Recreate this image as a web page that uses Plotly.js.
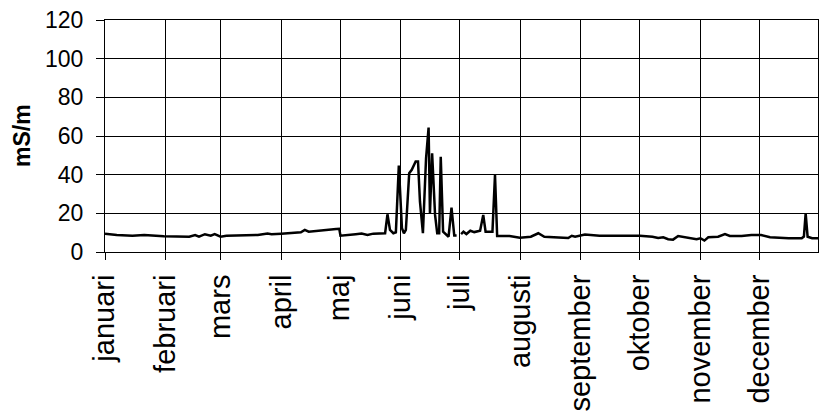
<!DOCTYPE html>
<html>
<head>
<meta charset="utf-8">
<script src="https://cdn.plot.ly/plotly-3.0.1.min.js"></script>
<style>html,body{margin:0;padding:0;background:#fff;}#chart{width:819px;height:415px;}</style>
</head>
<body>
<div id="chart"></div>
<script>
// Day of year (0 = 1 Jan) and conductivity readings (mS/m)
const days = [0, 6, 14, 20, 30, 43, 46, 48, 51, 54, 56, 59, 62, 72, 78, 83, 85, 90, 100, 102, 104, 118, 119.6, 120.2, 123, 128, 131, 134, 137, 142,
  143, 144.2, 145.5, 147.2, 148.5, 150, 151.6, 152.6, 153.6, 155.3, 156.6, 158.6, 159.8, 160.8, 162.3, 163.9, 165.2, 165.9, 167, 168.5,
  169.6, 170.6, 171.4, 172.6, 173.6, 175.4, 176.9, 178.3, 179.5, 180.3, 181.8, 183, 184.5, 186.5, 188.5, 191.5, 193.1, 194.3, 197.8, 199.1,
  200.2, 206.5, 211.8, 217.4, 221.2, 224.3, 234, 236.5, 238.3, 240, 245, 247.5, 252.5, 273, 279.5, 282.4, 285, 287.5, 290, 292.6,
  297, 302, 304, 306, 308, 313, 316.5, 319, 325, 330, 335, 339.5, 349, 355.7, 356.8, 357.7, 358.7, 361, 364];
const values = [9.5, 8.8, 8.4, 8.8, 8.1, 7.9, 8.8, 7.9, 9.2, 8.4, 9.2, 7.9, 8.4, 8.6, 8.8, 9.6, 9.2, 9.5, 10.2, 11.4, 10.5, 11.9, 12.0, 8.4, 8.8, 9.2, 9.5, 8.8, 9.5, 9.6,
  9.7, 19.5, 11.4, 9.7, 10.2, 44.7, 12.3, 9.7, 11.4, 40.7, 42.5, 46.8, 46.8, 26, 9.7, 48.5, 64.4, 20, 51.1, 19.2,
  9.7, 9.7, 49.3, 10.5, 9.7, 7.9, 22.9, 8.5, 8.5, null, 9.3, 10.5, 9.3, 11, 10.3, 11, 19.2, 10.5, 10.5, 39.9,
  8.3, 8.3, 7.4, 7.9, 9.7, 7.9, 7.4, 7.2, 8.4, 7.9, 9.1, 8.8, 8.4, 8.4, 7.9, 7.2, 7.6, 6.6, 6.4, 8.3,
  7.6, 6.6, 7.1, 5.9, 7.6, 7.9, 9.3, 8.3, 8.3, 8.8, 8.8, 7.6, 7.1, 7.1, 8, 20, 7.9, 7.1, 7.1];

const monthStarts = [0, 31, 59, 90, 120, 151, 181, 212, 243, 273, 304, 334];
const monthNames = ['januari', 'februari', 'mars', 'april', 'maj', 'juni', 'juli', 'augusti', 'september', 'oktober', 'november', 'december'];
const yTicks = [0, 20, 40, 60, 80, 100, 120];
const yTitle = 'mS/m';

const trace = {
  x: days, y: values, type: 'scatter', mode: 'lines',
  line: {color: '#000', width: 2.5},
  connectgaps: false, hoverinfo: 'skip'
};

const layout = {
  width: 819, height: 415,
  margin: {l: 105, r: 1, t: 20, b: 163},
  paper_bgcolor: '#fff', plot_bgcolor: '#fff',
  showlegend: false,
  xaxis: {
    range: [0, 364], tickmode: 'array', tickvals: monthStarts, ticktext: monthNames,
    tickangle: -90, ticks: 'outside', ticklen: 7, tickcolor: '#000', tickwidth: 1,
    showline: true, linecolor: '#000', linewidth: 1, mirror: true,
    showgrid: true, gridcolor: '#000', gridwidth: 1, zeroline: false,
    ticklabelstandoff: 3, automargin: false,
    tickfont: {family: 'Liberation Sans, Arial, sans-serif', size: 29, color: '#000'}
  },
  yaxis: {
    range: [0, 120], tickmode: 'array', tickvals: yTicks,
    ticks: 'outside', ticklen: 8, tickcolor: '#000', tickwidth: 1,
    showline: true, linecolor: '#000', linewidth: 1, mirror: true,
    showgrid: true, gridcolor: '#000', gridwidth: 1, zeroline: false,
    automargin: false,
    tickfont: {family: 'Liberation Sans, Arial, sans-serif', size: 23, color: '#000'}
  },
  annotations: [{
    text: yTitle, xref: 'paper', yref: 'paper', x: -0.1164, y: 0.5,
    xanchor: 'center', yanchor: 'middle', textangle: -90, showarrow: false,
    font: {family: 'Liberation Sans, Arial, sans-serif', size: 23, weight: 'bold', color: '#000'}
  }]
};

Plotly.newPlot('chart', [trace], layout, {staticPlot: true, displayModeBar: false}).then(function () {
  // move the y tick labels a little further from the tick marks
  document.querySelectorAll('#chart g.ytick').forEach(function (g) {
    const w = document.createElementNS('http://www.w3.org/2000/svg', 'g');
    w.setAttribute('transform', 'translate(-8,0)');
    g.parentNode.insertBefore(w, g);
    w.appendChild(g);
  });
});
</script>
</body>
</html>
